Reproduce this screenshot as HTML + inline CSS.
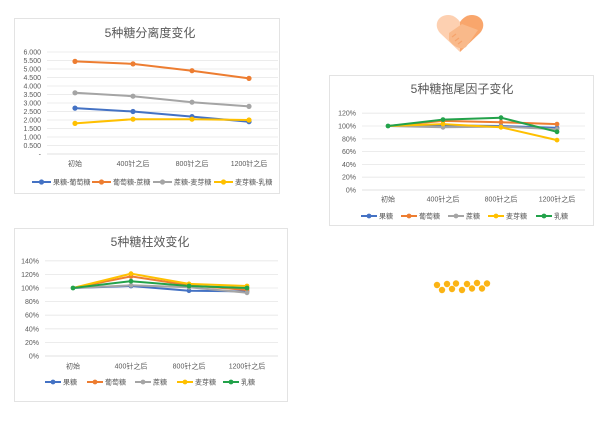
<!DOCTYPE html>
<html><head><meta charset="utf-8"><style>
html,body{margin:0;padding:0;background:#fff;}
svg{display:block;font-family:"Liberation Sans","Noto Sans CJK SC",sans-serif;}
.t{font-size:12px;fill:#595959;text-anchor:middle}
.ax{font-size:7px;fill:#595959}
.r{text-anchor:end}
.m{text-anchor:middle}
.g{stroke:#e6e6e6;stroke-width:0.8}
.s{fill:none;stroke-width:2}
</style></head><body>
<svg width="606" height="423" viewBox="0 0 606 423">
<rect width="606" height="423" fill="#fff"/>
<!-- chart 1 -->
<rect x="14.5" y="18.5" width="265" height="175" fill="#fff" stroke="#e3e3e3"/>
<text class="t" x="150" y="37">5种糖分离度变化</text>
<g class="g">
<line x1="47" x2="278" y1="52" y2="52"/><line x1="47" x2="278" y1="60.5" y2="60.5"/><line x1="47" x2="278" y1="69" y2="69"/><line x1="47" x2="278" y1="77.5" y2="77.5"/><line x1="47" x2="278" y1="86" y2="86"/><line x1="47" x2="278" y1="94.5" y2="94.5"/><line x1="47" x2="278" y1="103" y2="103"/><line x1="47" x2="278" y1="111.5" y2="111.5"/><line x1="47" x2="278" y1="120" y2="120"/><line x1="47" x2="278" y1="128.5" y2="128.5"/><line x1="47" x2="278" y1="137" y2="137"/><line x1="47" x2="278" y1="145.5" y2="145.5"/><line x1="47" x2="278" y1="154" y2="154" stroke="#d9d9d9"/>
</g>
<g class="ax r">
<text x="41" y="54.5">6.000</text><text x="41" y="63">5.500</text><text x="41" y="71.5">5.000</text><text x="41" y="80">4.500</text><text x="41" y="88.5">4.000</text><text x="41" y="97">3.500</text><text x="41" y="105.5">3.000</text><text x="41" y="114">2.500</text><text x="41" y="122.5">2.000</text><text x="41" y="131">1.500</text><text x="41" y="139.5">1.000</text><text x="41" y="148">0.500</text><text x="41" y="156.5">-</text>
</g>
<g class="ax m"><text x="75" y="166">初始</text><text x="133" y="166">400针之后</text><text x="192" y="166">800针之后</text><text x="249" y="166">1200针之后</text></g>
<g class="s">
<polyline stroke="#4472c4" points="75,108.1 133,111.5 192,116.6 249,121.7"/>
<polyline stroke="#ed7d31" points="75,61.4 133,63.9 192,70.7 249,78.4"/>
<polyline stroke="#a5a5a5" points="75,92.8 133,96.2 192,102.2 249,106.4"/>
<polyline stroke="#ffc000" points="75,123.4 133,119.2 192,119.2 249,120"/>
</g>
<g fill="#4472c4"><circle cx="75" cy="108.1" r="2.6"/><circle cx="133" cy="111.5" r="2.6"/><circle cx="192" cy="116.6" r="2.6"/><circle cx="249" cy="121.7" r="2.6"/></g>
<g fill="#ed7d31"><circle cx="75" cy="61.4" r="2.6"/><circle cx="133" cy="63.9" r="2.6"/><circle cx="192" cy="70.7" r="2.6"/><circle cx="249" cy="78.4" r="2.6"/></g>
<g fill="#a5a5a5"><circle cx="75" cy="92.8" r="2.6"/><circle cx="133" cy="96.2" r="2.6"/><circle cx="192" cy="102.2" r="2.6"/><circle cx="249" cy="106.4" r="2.6"/></g>
<g fill="#ffc000"><circle cx="75" cy="123.4" r="2.6"/><circle cx="133" cy="119.2" r="2.6"/><circle cx="192" cy="119.2" r="2.6"/><circle cx="249" cy="120" r="2.6"/></g>
<g class="ax">
<line x1="32" x2="51" y1="182" y2="182" stroke="#4472c4" stroke-width="2"/><circle cx="41.5" cy="182" r="2.6" fill="#4472c4"/><text x="53" y="184.5">果糖-葡萄糖</text>
<line x1="92" x2="111" y1="182" y2="182" stroke="#ed7d31" stroke-width="2"/><circle cx="101.5" cy="182" r="2.6" fill="#ed7d31"/><text x="113" y="184.5">葡萄糖-蔗糖</text>
<line x1="153" x2="172" y1="182" y2="182" stroke="#a5a5a5" stroke-width="2"/><circle cx="162.5" cy="182" r="2.6" fill="#a5a5a5"/><text x="174" y="184.5">蔗糖-麦芽糖</text>
<line x1="214" x2="233" y1="182" y2="182" stroke="#ffc000" stroke-width="2"/><circle cx="223.5" cy="182" r="2.6" fill="#ffc000"/><text x="235" y="184.5">麦芽糖-乳糖</text>
</g>

<!-- heart -->
<g>
<path d="M460,52 L440,33 C433,25 438,15 448,15 C454,15 458,19 460,22 Z" fill="#fdd0b1"/>
<path d="M460,52 L480,33 C487,25 482,15 472,15 C466,15 462,19 460,22 Z" fill="#f9a66c"/>
<path d="M449,33 L462,24 L478,30 L466,47 C460,51 452,45 449,40 Z" fill="#f9b98a"/>
<path d="M452,37 l4,-3 M455,41 l4,-3 M458,44 l4,-3" stroke="#f6a36b" stroke-width="1.2"/>
</g>

<!-- chart 2 -->
<rect x="329.5" y="75.5" width="264" height="150" fill="#fff" stroke="#e3e3e3"/>
<text class="t" x="462" y="93">5种糖拖尾因子变化</text>
<g class="g">
<line x1="362" x2="585" y1="113.2" y2="113.2"/><line x1="362" x2="585" y1="126" y2="126"/><line x1="362" x2="585" y1="138.8" y2="138.8"/><line x1="362" x2="585" y1="151.6" y2="151.6"/><line x1="362" x2="585" y1="164.4" y2="164.4"/><line x1="362" x2="585" y1="177.2" y2="177.2"/><line x1="362" x2="585" y1="190" y2="190" stroke="#d9d9d9"/>
</g>
<g class="ax r">
<text x="356" y="115.7">120%</text><text x="356" y="128.5">100%</text><text x="356" y="141.3">80%</text><text x="356" y="154.1">60%</text><text x="356" y="166.9">40%</text><text x="356" y="179.7">20%</text><text x="356" y="192.5">0%</text>
</g>
<g class="ax m"><text x="388" y="201.5">初始</text><text x="443" y="201.5">400针之后</text><text x="501" y="201.5">800针之后</text><text x="557" y="201.5">1200针之后</text></g>
<g class="s">
<polyline stroke="#4472c4" points="388,126 443,125.4 501,126 557,127.9"/>
<polyline stroke="#ed7d31" points="388,126 443,120.9 501,122.2 557,124.1"/>
<polyline stroke="#a5a5a5" points="388,126 443,127.3 501,126.6 557,129.2"/>
<polyline stroke="#ffc000" points="388,126 443,124.1 501,127.3 557,140.1"/>
<polyline stroke="#22a24a" points="388,126 443,119.6 501,117.7 557,131.8"/>
</g>
<g fill="#4472c4"><circle cx="443" cy="125.4" r="2.4"/><circle cx="501" cy="126" r="2.4"/><circle cx="557" cy="127.9" r="2.4"/></g>
<g fill="#ed7d31"><circle cx="443" cy="120.9" r="2.4"/><circle cx="501" cy="122.2" r="2.4"/><circle cx="557" cy="124.1" r="2.4"/></g>
<g fill="#a5a5a5"><circle cx="443" cy="127.3" r="2.4"/><circle cx="501" cy="126.6" r="2.4"/><circle cx="557" cy="129.2" r="2.4"/></g>
<g fill="#ffc000"><circle cx="443" cy="124.1" r="2.4"/><circle cx="501" cy="127.3" r="2.4"/><circle cx="557" cy="140.1" r="2.4"/></g>
<g fill="#22a24a"><circle cx="388" cy="126" r="2.4"/><circle cx="443" cy="119.6" r="2.4"/><circle cx="501" cy="117.7" r="2.4"/><circle cx="557" cy="131.8" r="2.4"/></g>
<g class="ax">
<line x1="361" x2="377" y1="216" y2="216" stroke="#4472c4" stroke-width="2"/><circle cx="369" cy="216" r="2.4" fill="#4472c4"/><text x="379" y="218.5">果糖</text>
<line x1="401" x2="417" y1="216" y2="216" stroke="#ed7d31" stroke-width="2"/><circle cx="409" cy="216" r="2.4" fill="#ed7d31"/><text x="419" y="218.5">葡萄糖</text>
<line x1="448" x2="464" y1="216" y2="216" stroke="#a5a5a5" stroke-width="2"/><circle cx="456" cy="216" r="2.4" fill="#a5a5a5"/><text x="466" y="218.5">蔗糖</text>
<line x1="488" x2="504" y1="216" y2="216" stroke="#ffc000" stroke-width="2"/><circle cx="496" cy="216" r="2.4" fill="#ffc000"/><text x="506" y="218.5">麦芽糖</text>
<line x1="536" x2="552" y1="216" y2="216" stroke="#22a24a" stroke-width="2"/><circle cx="544" cy="216" r="2.4" fill="#22a24a"/><text x="554" y="218.5">乳糖</text>
</g>

<!-- chart 3 -->
<rect x="14.5" y="228.5" width="273" height="173" fill="#fff" stroke="#e3e3e3"/>
<text class="t" x="150" y="246">5种糖柱效变化</text>
<g class="g">
<line x1="45" x2="278" y1="260.8" y2="260.8"/><line x1="45" x2="278" y1="274.4" y2="274.4"/><line x1="45" x2="278" y1="288" y2="288"/><line x1="45" x2="278" y1="301.6" y2="301.6"/><line x1="45" x2="278" y1="315.2" y2="315.2"/><line x1="45" x2="278" y1="328.8" y2="328.8"/><line x1="45" x2="278" y1="342.4" y2="342.4"/><line x1="45" x2="278" y1="356" y2="356" stroke="#d9d9d9"/>
</g>
<g class="ax r">
<text x="39" y="263.3">140%</text><text x="39" y="276.9">120%</text><text x="39" y="290.5">100%</text><text x="39" y="304.1">80%</text><text x="39" y="317.7">60%</text><text x="39" y="331.3">40%</text><text x="39" y="344.9">20%</text><text x="39" y="358.5">0%</text>
</g>
<g class="ax m"><text x="73" y="368.5">初始</text><text x="131" y="368.5">400针之后</text><text x="189" y="368.5">800针之后</text><text x="247" y="368.5">1200针之后</text></g>
<g class="s">
<polyline stroke="#4472c4" points="73,288 131,286 189,290.7 247,291.4"/>
<polyline stroke="#ed7d31" points="73,288 131,276.4 189,285.3 247,290"/>
<polyline stroke="#a5a5a5" points="73,288 131,285.3 189,287.3 247,292.8"/>
<polyline stroke="#ffc000" points="73,288 131,273.7 189,283.9 247,286"/>
<polyline stroke="#22a24a" points="73,288 131,281.2 189,286 247,288"/>
</g>
<g fill="#4472c4"><circle cx="131" cy="286" r="2.4"/><circle cx="189" cy="290.7" r="2.4"/><circle cx="247" cy="291.4" r="2.4"/></g>
<g fill="#ed7d31"><circle cx="131" cy="276.4" r="2.4"/><circle cx="189" cy="285.3" r="2.4"/><circle cx="247" cy="290" r="2.4"/></g>
<g fill="#a5a5a5"><circle cx="131" cy="285.3" r="2.4"/><circle cx="189" cy="287.3" r="2.4"/><circle cx="247" cy="292.8" r="2.4"/></g>
<g fill="#ffc000"><circle cx="131" cy="273.7" r="2.4"/><circle cx="189" cy="283.9" r="2.4"/><circle cx="247" cy="286" r="2.4"/></g>
<g fill="#22a24a"><circle cx="73" cy="288" r="2.4"/><circle cx="131" cy="281.2" r="2.4"/><circle cx="189" cy="286" r="2.4"/><circle cx="247" cy="288" r="2.4"/></g>
<g class="ax">
<line x1="45" x2="61" y1="382" y2="382" stroke="#4472c4" stroke-width="2"/><circle cx="53" cy="382" r="2.4" fill="#4472c4"/><text x="63" y="384.5">果糖</text>
<line x1="87" x2="103" y1="382" y2="382" stroke="#ed7d31" stroke-width="2"/><circle cx="95" cy="382" r="2.4" fill="#ed7d31"/><text x="105" y="384.5">葡萄糖</text>
<line x1="135" x2="151" y1="382" y2="382" stroke="#a5a5a5" stroke-width="2"/><circle cx="143" cy="382" r="2.4" fill="#a5a5a5"/><text x="153" y="384.5">蔗糖</text>
<line x1="177" x2="193" y1="382" y2="382" stroke="#ffc000" stroke-width="2"/><circle cx="185" cy="382" r="2.4" fill="#ffc000"/><text x="195" y="384.5">麦芽糖</text>
<line x1="223" x2="239" y1="382" y2="382" stroke="#22a24a" stroke-width="2"/><circle cx="231" cy="382" r="2.4" fill="#22a24a"/><text x="241" y="384.5">乳糖</text>
</g>

<!-- dots -->
<g fill="#fbb415">
<circle cx="437" cy="285" r="3.2"/><circle cx="442" cy="290" r="3.2"/><circle cx="447" cy="284" r="3.2"/><circle cx="452" cy="289" r="3.2"/><circle cx="456" cy="283.5" r="3.2"/><circle cx="462" cy="290" r="3.2"/><circle cx="467" cy="284" r="3.2"/><circle cx="472" cy="288.5" r="3.2"/><circle cx="477" cy="283" r="3.2"/><circle cx="482" cy="288.5" r="3.2"/><circle cx="487" cy="283.5" r="3.2"/>
</g>
</svg>
</body></html>
